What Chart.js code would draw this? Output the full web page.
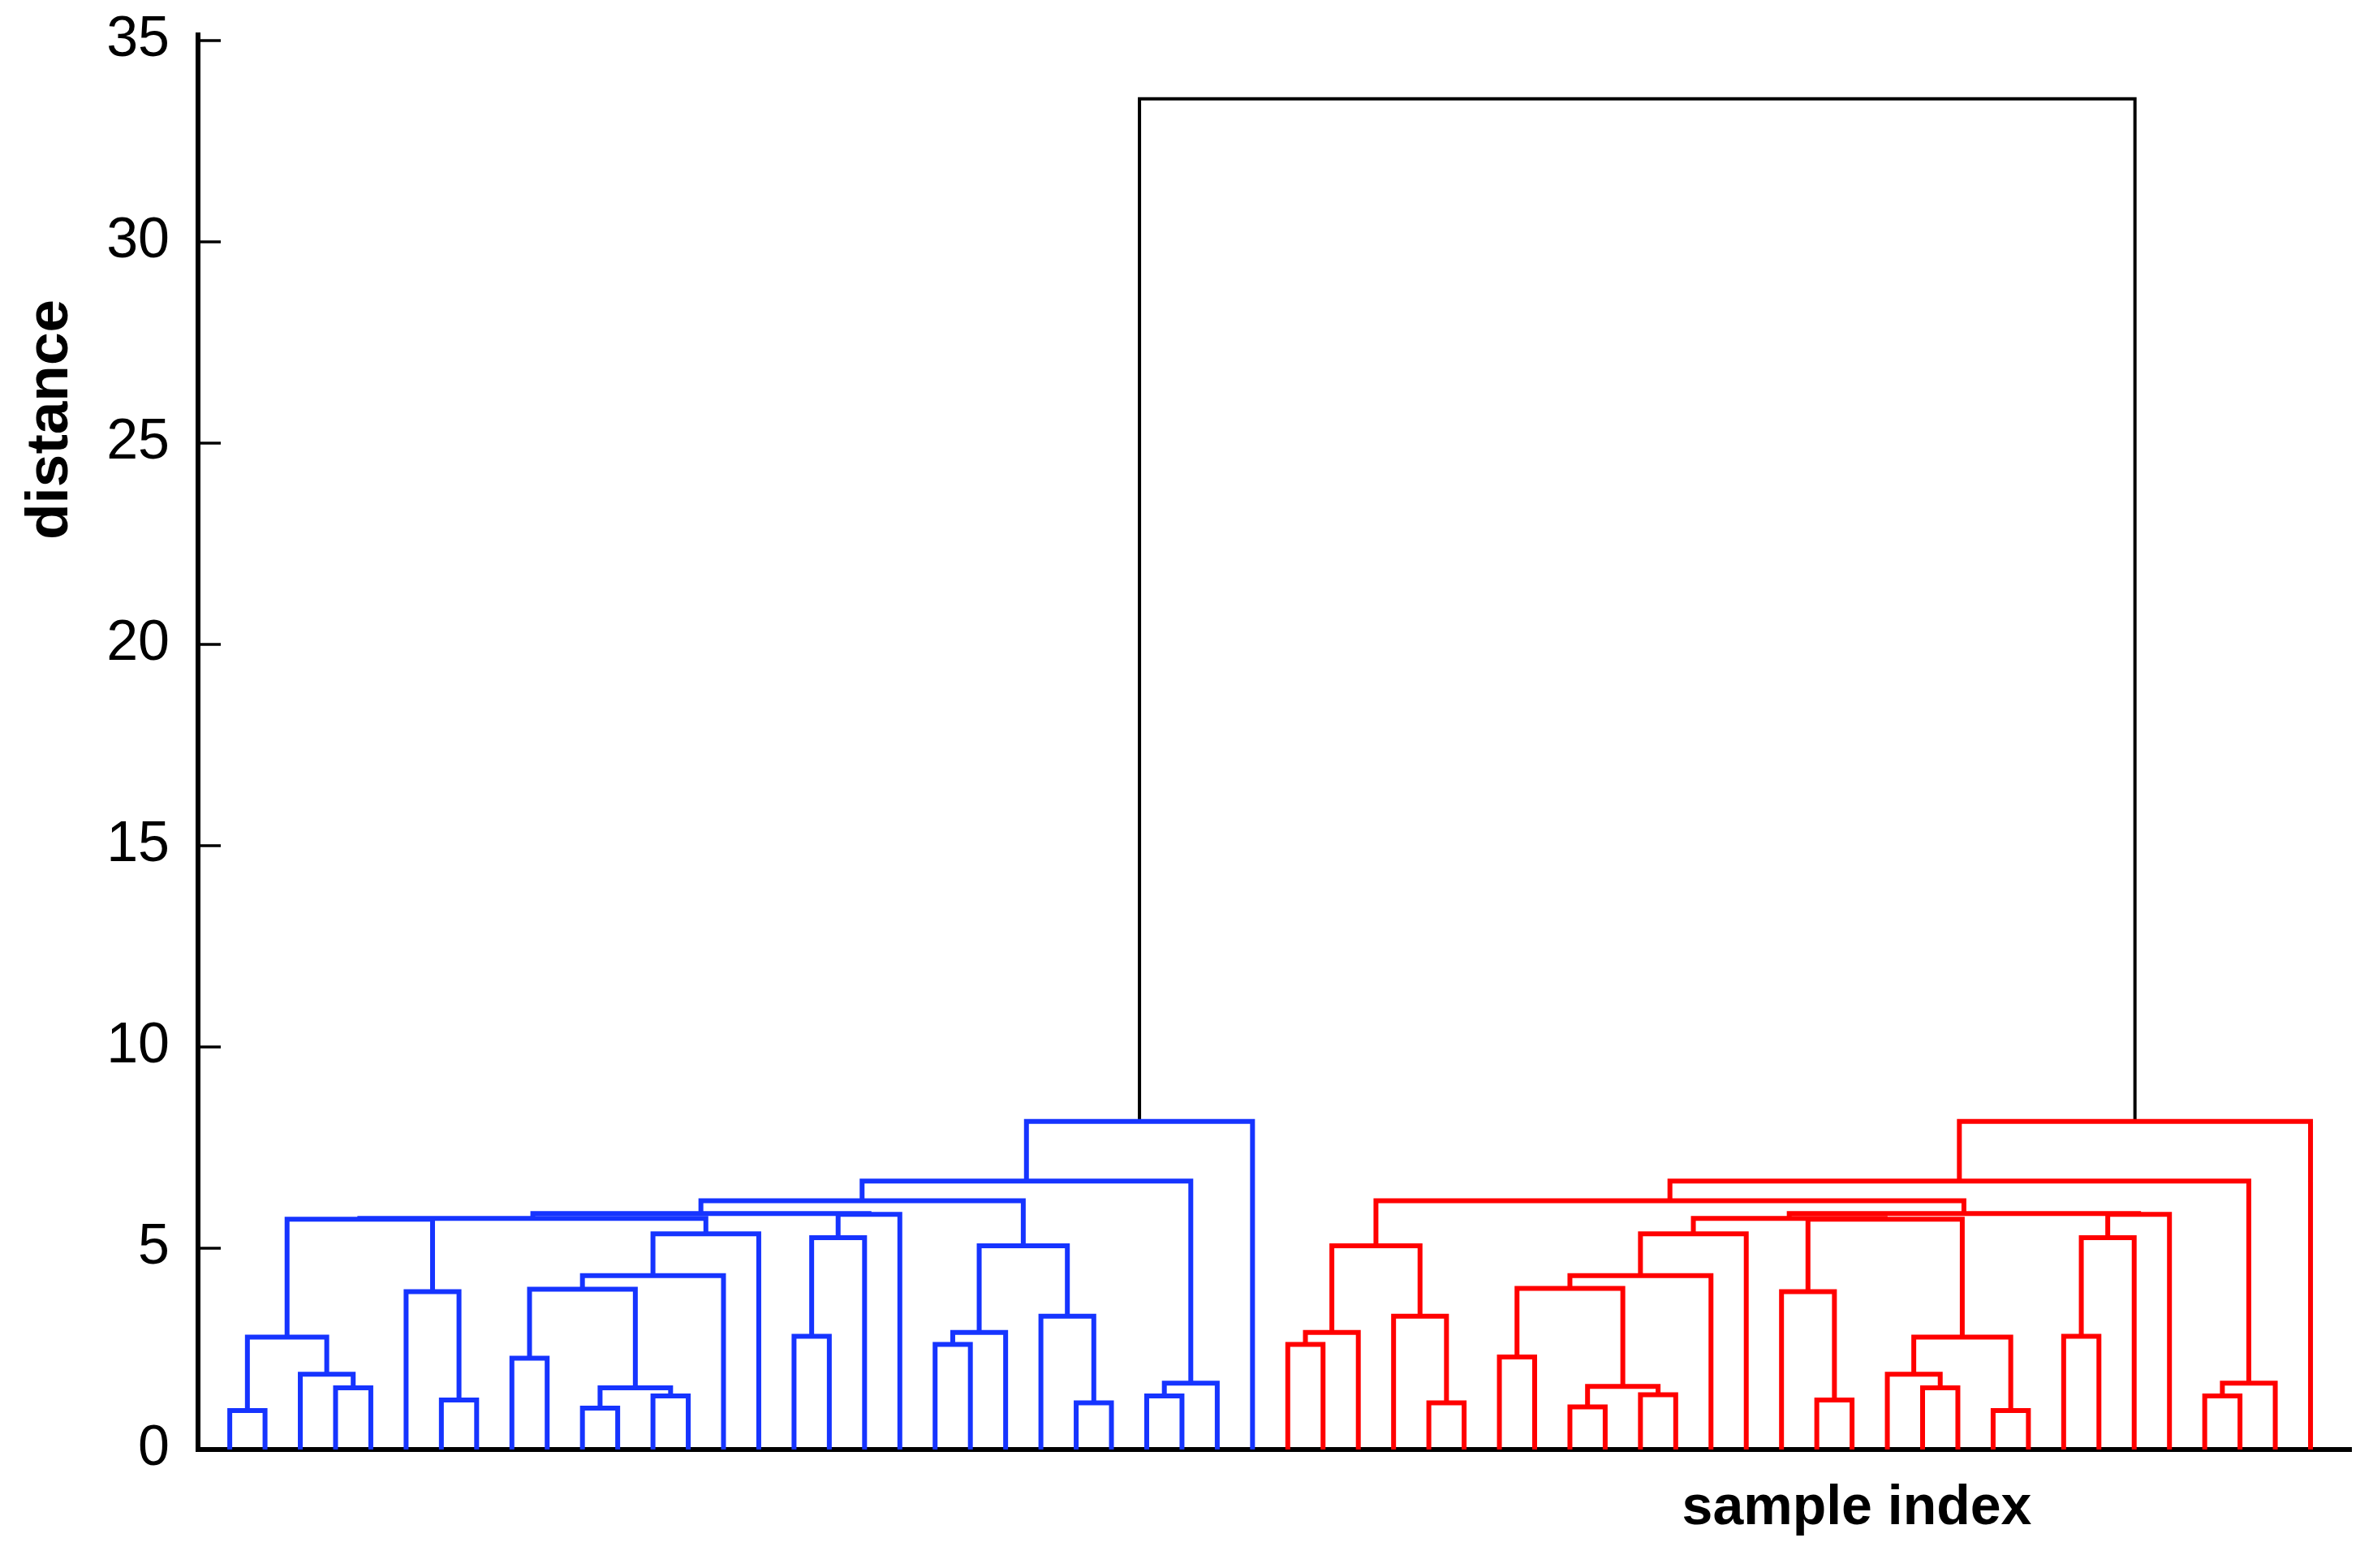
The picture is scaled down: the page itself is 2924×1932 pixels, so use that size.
<!DOCTYPE html>
<html>
<head>
<meta charset="utf-8">
<script src="https://cdn.jsdelivr.net/npm/chart.js@4.4.1/dist/chart.umd.min.js"></script>
<style>
html,body{margin:0;padding:0;background:#ffffff;}
#wrap{width:2924px;height:1932px;position:relative;}
</style>
</head>
<body>
<div id="wrap"><canvas id="c" width="2924" height="1932"></canvas></div>
<script>
// ---- data ----
const leafCount = 60;            // samples, leaf i sits at x = i
// linkage: merge k creates node id leafCount + k from children mergeLeft[k], mergeRight[k]
const mergeLeft = [
  0, 3, 2, 60, 6, 5, 63, 8, 10, 12, 68, 67, 71, 72, 66, 16, 75, 76, 74, 20, 79, 24, 23, 80, 78, 26, 85, 84, 87,
  30, 89, 34, 33, 90, 38, 40, 94, 36, 97, 98, 99, 45, 44, 48, 47, 50, 104, 102, 100, 52, 109, 110, 108, 93, 56, 114, 113, 116,
  88
];
const mergeRight = [
  1, 4, 61, 62, 7, 64, 65, 9, 11, 13, 69, 70, 14, 15, 73, 17, 18, 19, 77, 21, 22, 25, 81, 82, 83, 27, 28, 86, 29,
  31, 32, 35, 91, 92, 39, 41, 95, 37, 96, 42, 43, 46, 101, 49, 103, 51, 105, 106, 107, 53, 54, 55, 111, 112, 57, 58, 115, 59,
  117
];
const mergeHeight = [
  0.97, 1.53, 1.87, 2.79, 1.23, 3.92, 5.72, 2.27, 1.03, 1.33, 1.53, 3.98, 4.32, 5.36, 5.74, 2.81, 5.26, 5.84, 5.86, 2.61, 2.91, 1.16, 3.31, 5.06, 6.18, 1.33, 1.65, 6.67, 8.15,
  2.61, 2.91, 1.16, 3.31, 5.06, 1.06, 1.36, 1.57, 2.30, 4.00, 4.32, 5.36, 1.23, 3.92, 1.53, 1.87, 0.97, 2.79, 5.72, 5.74, 2.81, 5.26, 5.84, 5.86, 6.18, 1.33, 1.65, 6.67, 8.15,
  33.55
];
const yTickValues = [0, 5, 10, 15, 20, 25, 30, 35];
const xTitle = 'sample index';
const yTitle = 'distance';

// ---- styles ----
const groupColor = { left: '#1634ff', right: '#ff0000', root: '#000000' };
const FONT = '"Liberation Sans", Arial, Helvetica, sans-serif';

// ---- build node positions from the linkage ----
const nodeX = [], nodeH = [];
for (let i = 0; i < leafCount; i++) { nodeX[i] = i; nodeH[i] = 0; }
mergeLeft.forEach((a, k) => {
  const b = mergeRight[k], id = leafCount + k;
  nodeX[id] = (nodeX[a] + nodeX[b]) / 2;
  nodeH[id] = mergeHeight[k];
});
const rootK = mergeLeft.length - 1;
const group = {};
function mark(id, g) {
  group[id] = g;
  if (id >= leafCount) { const k = id - leafCount; mark(mergeLeft[k], g); mark(mergeRight[k], g); }
}
mark(mergeLeft[rootK], 'left');
mark(mergeRight[rootK], 'right');
group[leafCount + rootK] = 'root';

const datasets = mergeLeft.map((a, k) => {
  const b = mergeRight[k], id = leafCount + k, h = mergeHeight[k], g = group[id];
  return {
    data: [
      { x: nodeX[a], y: nodeH[a] },
      { x: nodeX[a], y: h },
      { x: nodeX[b], y: h },
      { x: nodeX[b], y: nodeH[b] }
    ],
    showLine: true,
    borderColor: groupColor[g],
    borderWidth: g === 'root' ? 4 : 6,
    pointRadius: 0,
    pointHoverRadius: 0,
    fill: false,
    tension: 0,
    borderJoinStyle: 'miter',
    borderCapStyle: 'butt'
  };
});

const innerTicks = {
  id: 'innerTicks',
  afterDraw(chart) {
    const ctx = chart.ctx, ys = chart.scales.y, left = chart.chartArea.left;
    ctx.save();
    ctx.strokeStyle = '#000';
    ctx.lineWidth = 3.5;
    ys.ticks.forEach(t => {
      const p = Math.round(ys.getPixelForValue(t.value));
      ctx.beginPath();
      ctx.moveTo(left, p);
      ctx.lineTo(left + 28, p);
      ctx.stroke();
    });
    ctx.restore();
  }
};

const titles = {
  id: 'titles',
  afterDraw(chart) {
    const ctx = chart.ctx;
    ctx.save();
    ctx.fillStyle = '#000';
    ctx.textAlign = 'center';
    ctx.textBaseline = 'alphabetic';
    ctx.font = 'bold 68px ' + FONT;
    ctx.fillText(xTitle, 2288, 1878);
    ctx.translate(83, 517);
    ctx.rotate(-Math.PI / 2);
    ctx.font = 'bold 73px ' + FONT;
    ctx.fillText(yTitle, 0, 0);
    ctx.restore();
  }
};

function zeroPad(s) { s.paddingTop = 0; s.paddingBottom = 0; s.paddingLeft = 0; s.paddingRight = 0; }

new Chart(document.getElementById('c'), {
  type: 'scatter',
  data: { datasets },
  options: {
    responsive: false,
    devicePixelRatio: 1,
    animation: false,
    events: [],
    layout: { padding: { left: 0, right: 27, top: 43, bottom: 0 } },
    plugins: { legend: { display: false }, tooltip: { enabled: false } },
    scales: {
      x: {
        type: 'linear',
        min: -0.9,
        max: 60.15,
        z: 1,
        grid: { display: false, drawTicks: false },
        border: { display: true, color: '#000', width: 6 },
        ticks: { display: false },
        afterFit(s) { s.height = 146; zeroPad(s); }
      },
      y: {
        type: 'linear',
        min: 0,
        max: 35.14,
        z: 1,
        grid: { display: false, drawTicks: false },
        border: { display: true, color: '#000', width: 6 },
        afterBuildTicks(s) { s.ticks = yTickValues.map(v => ({ value: v })); },
        ticks: {
          color: '#000',
          padding: 35,
          font: { family: FONT, size: 70, weight: 'normal' },
          callback: v => String(v)
        },
        afterFit(s) { s.width = 244; zeroPad(s); }
      }
    }
  },
  plugins: [innerTicks, titles]
});
</script>
</body>
</html>
